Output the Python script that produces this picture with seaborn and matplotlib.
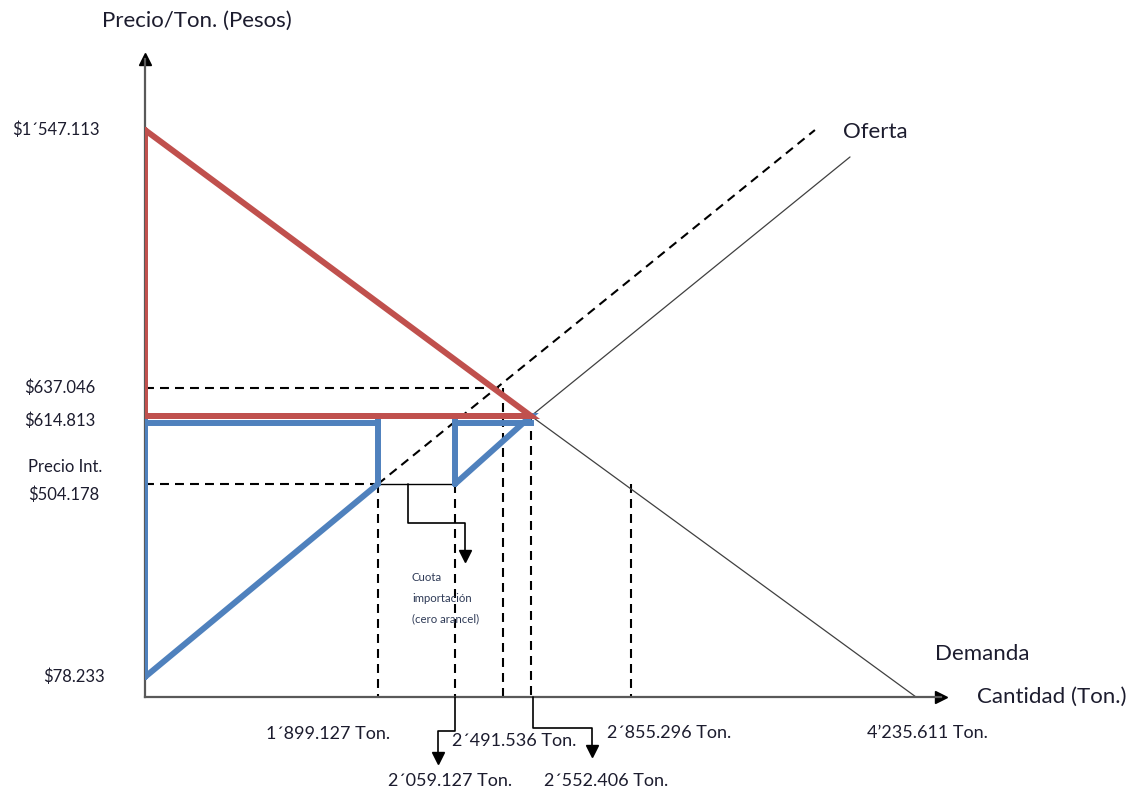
import numpy as np
import matplotlib
matplotlib.use('Agg')
import matplotlib.pyplot as plt
import matplotlib.transforms as mtransforms
import seaborn as sns

# ── Values on the diagram ─────────────────────────────────────────
precio_max = 1547.113      # demand at zero quantity
precio_cuota = 637.046
precio_eq = 614.813
precio_int = 504.178       # international price
precio_min = 78.233        # supply at zero quantity

q_int_oferta = 1899.127
q_cuota = 2059.127
q_cuota_eq = 2491.536
q_eq = 2552.406
q_int_demanda = 2855.296
q_max = 4235.611

demanda_q = [0, q_eq, q_max]
demanda_p = [precio_max, precio_eq, 0]
oferta_q = [q_int_oferta, 3746]                 # dashed supply (visible part)
oferta_p = [precio_int, 1547]
oferta_cuota_q = [q_cuota, q_eq, 3916]          # supply + quota
oferta_cuota_p = [precio_int, precio_eq, 1452]

rojo_q = [0, 0, q_eq, 0]
rojo_p = [precio_max, precio_eq, precio_eq, precio_max]
azul1_q = [0, 0, q_int_oferta, q_int_oferta, 0]
azul1_p = [precio_min, precio_eq, precio_eq, precio_int, precio_min]
azul2_q = [q_cuota, q_cuota, q_eq, q_cuota]
azul2_p = [precio_int, precio_eq, precio_eq, precio_int]

precio_ticks = [precio_max, precio_cuota, precio_eq, precio_min]
precio_labels = {precio_max: '$1´547.113', precio_cuota: '$637.046',
                 precio_eq: '$614.813', precio_int: 'Precio Int.\n$504.178',
                 precio_min: '$78.233'}
cantidad_labels = {q_int_oferta: '1´899.127 Ton.', q_cuota_eq: '2´491.536 Ton.',
                   q_int_demanda: '2´855.296 Ton.', q_max: '4’235.611 Ton.',
                   q_cuota: '2´059.127 Ton.', q_eq: '2´552.406 Ton.'}

# ── Schematic (not to scale) axis layout: value -> pixels from origin ──
X_ANCH_Q = [0, q_int_oferta, q_cuota, q_cuota_eq, q_eq, q_int_demanda, q_max, 4360]
X_ANCH_PX = [0, 233, 310, 358, 386, 486, 771, 796]
Y_ANCH_P = [0, precio_min, precio_int, precio_eq, precio_cuota, precio_max, 1800]
Y_ANCH_PX = [0, 20, 213, 281, 309, 567, 638]

ROJO = '#c0504d'
AZUL = '#4f81bd'
GRIS = '#595959'
TXT = '#1c1c2e'

sns.set_style('white')
plt.rcParams['font.family'] = ['Lato', 'DejaVu Sans']
plt.rcParams['lines.dashed_pattern'] = (4.3, 2.9)

fig = plt.figure(figsize=(11.34, 7.92), dpi=100)
ax = fig.add_axes([145 / 1134, 95 / 792, 796 / 1134, 638 / 792])
ax.set_xscale('function', functions=(lambda v: np.interp(v, X_ANCH_Q, X_ANCH_PX),
                                     lambda v: np.interp(v, X_ANCH_PX, X_ANCH_Q)))
ax.set_yscale('function', functions=(lambda v: np.interp(v, Y_ANCH_P, Y_ANCH_PX),
                                     lambda v: np.interp(v, Y_ANCH_PX, Y_ANCH_P)))
ax.set_xlim(0, 4360)
ax.set_ylim(0, 1800)

# axes as arrows
for s in ['top', 'right']:
    ax.spines[s].set_visible(False)
for s in ['left', 'bottom']:
    ax.spines[s].set_color(GRIS)
    ax.spines[s].set_linewidth(1.6)
ax.plot(1, 0, marker='>', ms=9, color='k', transform=ax.transAxes, clip_on=False)
ax.plot(0, 1, marker='^', ms=9, color='k', transform=ax.transAxes, clip_on=False)

ax.set_yticks(precio_ticks)
ax.set_xticks([q_cuota_eq, q_max])
ax.set_xticks([q_int_oferta], minor=True)
ax.tick_params(axis='y', length=6, width=1, color='#404040', labelleft=False)
ax.tick_params(axis='x', which='major', length=10, width=1, color='#404040', labelbottom=False)
ax.tick_params(axis='x', which='minor', length=5, width=1, color='#404040', labelbottom=False)
ax.set_xlabel('')
ax.set_ylabel('')

# ── dashed guides ──
dash = dict(color='k', lw=1.5, ls='--', zorder=2)
ax.plot([0, q_cuota_eq], [precio_cuota] * 2, **dash)
ax.plot([0, q_int_oferta], [precio_int] * 2, **dash)
for q, p in [(q_int_oferta, precio_int), (q_cuota, precio_int), (q_cuota_eq, precio_cuota),
             (q_eq, precio_eq), (q_int_demanda, precio_int)]:
    ax.plot([q, q], [p, 0], **dash)
sns.lineplot(x=oferta_q, y=oferta_p, sort=False, estimator=None, ax=ax,
             color='k', lw=1.5, ls='--', zorder=2)

# ── supply / demand ──
sns.lineplot(x=demanda_q, y=demanda_p, sort=False, estimator=None, ax=ax,
             color='#404040', lw=0.9, zorder=2)
sns.lineplot(x=oferta_cuota_q, y=oferta_cuota_p, sort=False, estimator=None, ax=ax,
             color='#404040', lw=0.9, zorder=2)
ax.plot([q_int_oferta, q_cuota], [precio_int] * 2, color='k', lw=1, zorder=2)

# ── surplus areas ──
sns.lineplot(x=azul1_q, y=azul1_p, sort=False, estimator=None, ax=ax,
             color=AZUL, lw=4.3, zorder=3, solid_joinstyle='miter')
sns.lineplot(x=azul2_q, y=azul2_p, sort=False, estimator=None, ax=ax,
             color=AZUL, lw=4.3, zorder=3, solid_joinstyle='miter')
sns.lineplot(x=rojo_q, y=rojo_p, sort=False, estimator=None, ax=ax,
             color=ROJO, lw=4.3, zorder=5, solid_joinstyle='miter')
below = mtransforms.offset_copy(ax.transData, fig=fig, x=0, y=-7, units='dots')
ax.plot([0, q_int_oferta], [precio_eq] * 2, color=AZUL, lw=4.3, zorder=4,
        transform=below, solid_capstyle='projecting')
ax.plot([q_cuota, q_eq], [precio_eq] * 2, color=AZUL, lw=4.3, zorder=4,
        transform=below, solid_capstyle='projecting')


def bent_arrow(q, p, dx, dy):
    tr = mtransforms.IdentityTransform() + mtransforms.ScaledTranslation(q, p, ax.transData)
    ax.plot(dx, dy, color='k', lw=1.2, transform=tr, clip_on=False, zorder=6)
    ax.plot(dx[-1], dy[-1], marker='v', ms=9, color='k', transform=tr, clip_on=False, zorder=6)


bent_arrow(q_int_oferta, precio_int, [30, 30, 87, 87], [0, -39, -39, -72])
bent_arrow(q_cuota, 0, [0, 0, -17, -17], [0, -34, -34, -61])
bent_arrow(q_eq, 0, [2, 2, 61, 61], [0, -31, -31, -54])

# ── text ──
fs_title = 16
fs_x = 13
fs_y = 12
ax.annotate('Precio/Ton. (Pesos)', xy=(0, 1), xycoords='axes fraction', xytext=(52, 38),
            textcoords='offset pixels', ha='center', va='center', fontsize=fs_title, color=TXT)
ax.annotate('Cantidad (Ton.)', xy=(1, 0), xycoords='axes fraction', xytext=(36, 0),
            textcoords='offset pixels', ha='left', va='center', fontsize=fs_title, color=TXT)
ax.text(3882, 1540, 'Oferta', ha='left', va='center', fontsize=fs_title, color=TXT)
ax.text(4328, 129, 'Demanda', ha='left', va='center', fontsize=fs_title, color=TXT)

y_off = {precio_max: (-45, 0), precio_cuota: (-50, 0), precio_eq: (-50, -5),
         precio_int: (-43, 3), precio_min: (-40, 0)}
for p, lab in precio_labels.items():
    ax.annotate(lab, xy=(0, p), xycoords=('axes fraction', 'data'), xytext=y_off[p],
                textcoords='offset pixels', ha='right', va='center', multialignment='left',
                fontsize=fs_y, color=TXT, linespacing=1.85)

x_off = {q_int_oferta: (-50, -37), q_cuota_eq: (11, -44), q_int_demanda: (38, -36),
         q_max: (11, -36), q_cuota: (-5, -84), q_eq: (75, -84)}
for q, lab in cantidad_labels.items():
    ax.annotate(lab, xy=(q, 0), xytext=x_off[q], textcoords='offset pixels',
                ha='center', va='center', fontsize=fs_x, color=TXT, annotation_clip=False)

ax.annotate('Cuota\nimportación\n(cero arancel)', xy=(q_int_oferta, precio_int),
            xytext=(34, -114), textcoords='offset pixels', ha='left', va='center',
            fontsize=8.2, color='#2f3b57', linespacing=2.1)

fig.savefig('out.png', dpi=100)
